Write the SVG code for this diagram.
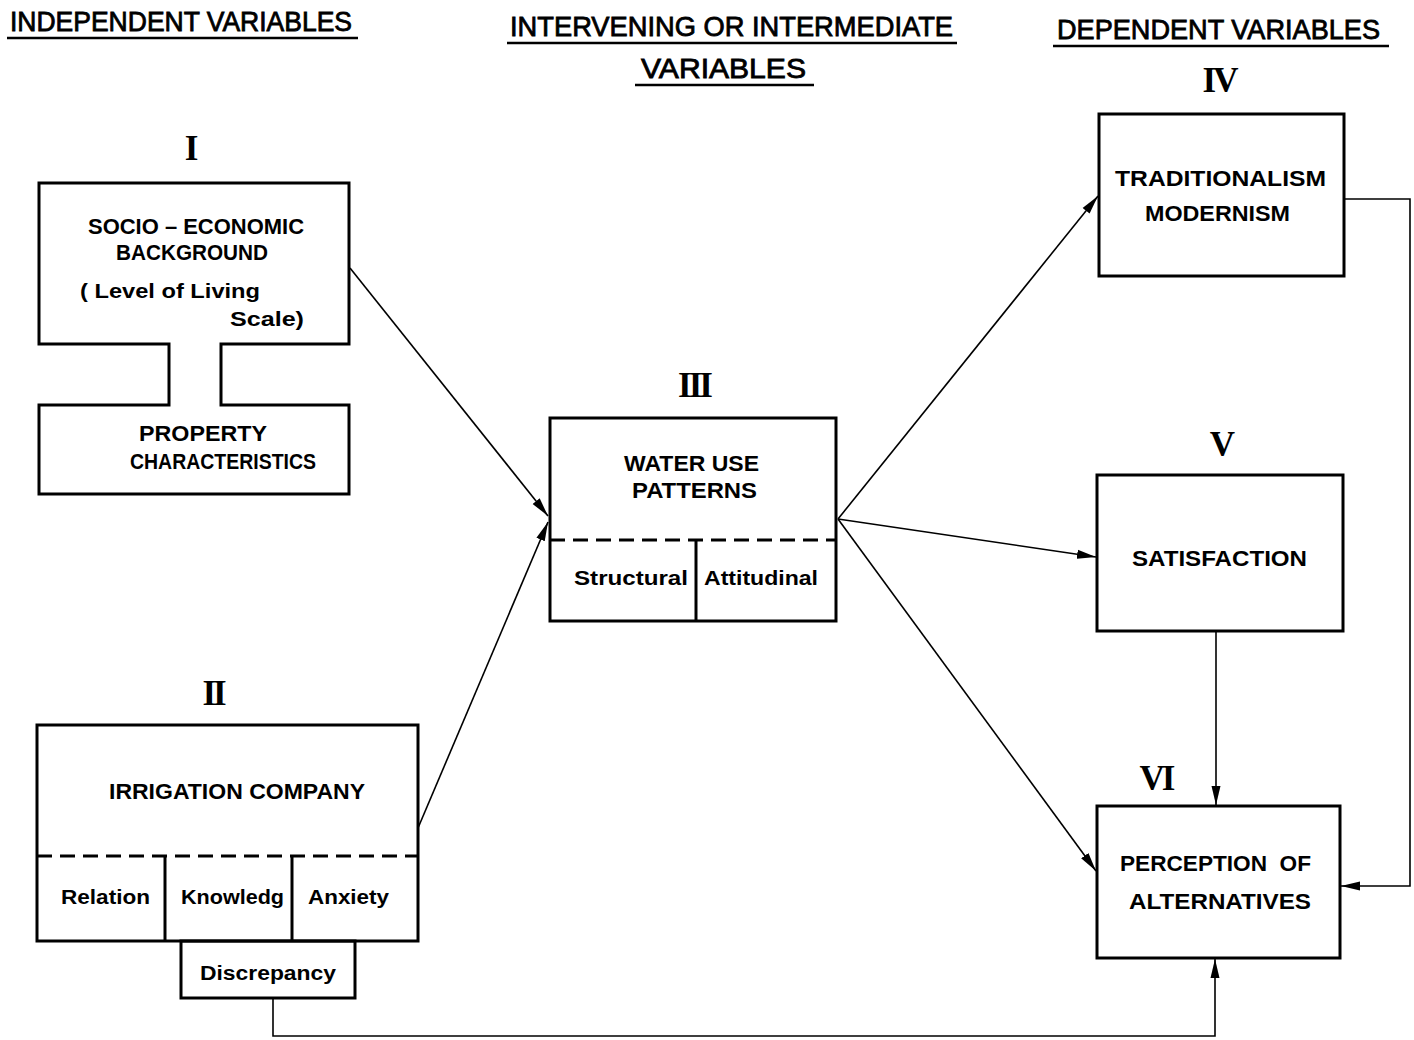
<svg xmlns="http://www.w3.org/2000/svg" width="1414" height="1040" viewBox="0 0 1414 1040">
  <style>
    .box { fill: none; stroke: #000; stroke-width: 3; stroke-linejoin: miter; }
    .dash { fill: none; stroke: #000; stroke-width: 3; stroke-dasharray: 15 8; }
    .div { fill: none; stroke: #000; stroke-width: 3; }
    .conn { fill: none; stroke: #000; stroke-width: 1.6; }
    .rule { stroke: #000; stroke-width: 2.5; }
    .head { font-family: "Liberation Sans", Arial, sans-serif; font-size: 27px; fill: #000; stroke: #000; stroke-width: 0.8px; }
    .lbl { font-family: "Liberation Sans", Arial, sans-serif; font-weight: bold; font-size: 22px; fill: #000; white-space: pre; }
    .sub { font-family: "Liberation Sans", Arial, sans-serif; font-weight: bold; font-size: 20px; fill: #000; }
    .num { font-family: "Liberation Serif", "Times New Roman", serif; font-weight: bold; font-size: 35px; fill: #000; text-anchor: middle; letter-spacing: -3px; }
  </style>
  <defs>
    <marker id="arrow" markerUnits="userSpaceOnUse" markerWidth="20" markerHeight="10" refX="19" refY="5" orient="auto">
      <path d="M0,0.5 L19,5 L0,9.5 Z" fill="#000"/>
    </marker>
  </defs>
  <rect width="1414" height="1040" fill="#fff"/>

  <!-- column headings -->
  <g id="headings">
    <text class="head" x="10" y="31" textLength="342" lengthAdjust="spacingAndGlyphs">INDEPENDENT VARIABLES</text>
    <line class="rule" x1="7" y1="38" x2="358" y2="38"/>
    <text class="head" x="510" y="36" textLength="443" lengthAdjust="spacingAndGlyphs">INTERVENING OR INTERMEDIATE</text>
    <line class="rule" x1="507" y1="43" x2="957" y2="43"/>
    <text class="head" x="641" y="78" textLength="165" lengthAdjust="spacingAndGlyphs">VARIABLES</text>
    <line class="rule" x1="635" y1="85" x2="814" y2="85"/>
    <text class="head" x="1057" y="39" textLength="323" lengthAdjust="spacingAndGlyphs">DEPENDENT VARIABLES</text>
    <line class="rule" x1="1053" y1="46" x2="1389" y2="46"/>
  </g>

  <!-- I: socio-economic background joined to property characteristics -->
  <g id="node-I">
    <text class="num" x="190" y="160">I</text>
    <path class="box" d="M39,183 H349 V344 H221 V405 H349 V494 H39 V405 H169 V344 H39 Z"/>
    <text class="lbl" x="88" y="234" textLength="216" lengthAdjust="spacingAndGlyphs">SOCIO – ECONOMIC</text>
    <text class="lbl" x="116" y="260" textLength="152" lengthAdjust="spacingAndGlyphs">BACKGROUND</text>
    <text class="sub" x="80" y="298" textLength="180" lengthAdjust="spacingAndGlyphs">( Level of Living</text>
    <text class="sub" x="230" y="326" textLength="74" lengthAdjust="spacingAndGlyphs">Scale)</text>
    <text class="lbl" x="139" y="441" textLength="128" lengthAdjust="spacingAndGlyphs">PROPERTY</text>
    <text class="lbl" x="130" y="469" textLength="186" lengthAdjust="spacingAndGlyphs">CHARACTERISTICS</text>
  </g>

  <!-- II: irrigation company -->
  <g id="node-II">
    <text class="num" x="213" y="705">II</text>
    <rect class="box" x="37" y="725" width="381" height="216"/>
    <line class="dash" x1="37" y1="856" x2="418" y2="856"/>
    <line class="div" x1="165" y1="856" x2="165" y2="941"/>
    <line class="div" x1="292" y1="856" x2="292" y2="941"/>
    <rect class="box" x="181" y="941" width="174" height="57"/>
    <text class="lbl" x="109" y="799" textLength="256" lengthAdjust="spacingAndGlyphs">IRRIGATION COMPANY</text>
    <text class="sub" x="61" y="904" textLength="89" lengthAdjust="spacingAndGlyphs">Relation</text>
    <text class="sub" x="181" y="904" textLength="103" lengthAdjust="spacingAndGlyphs">Knowledg</text>
    <text class="sub" x="308" y="904" textLength="81" lengthAdjust="spacingAndGlyphs">Anxiety</text>
    <text class="sub" x="200" y="980" textLength="136" lengthAdjust="spacingAndGlyphs">Discrepancy</text>
  </g>

  <!-- III: water use patterns -->
  <g id="node-III">
    <text class="num" x="694" y="397">III</text>
    <rect class="box" x="550" y="418" width="286" height="203"/>
    <line class="dash" x1="550" y1="540" x2="836" y2="540"/>
    <line class="div" x1="696" y1="540" x2="696" y2="621"/>
    <text class="lbl" x="624" y="471" textLength="135" lengthAdjust="spacingAndGlyphs">WATER USE</text>
    <text class="lbl" x="632" y="498" textLength="125" lengthAdjust="spacingAndGlyphs">PATTERNS</text>
    <text class="sub" x="574" y="585" textLength="114" lengthAdjust="spacingAndGlyphs">Structural</text>
    <text class="sub" x="704" y="585" textLength="114" lengthAdjust="spacingAndGlyphs">Attitudinal</text>
  </g>

  <!-- IV: traditionalism / modernism -->
  <g id="node-IV">
    <text class="num" x="1219" y="92">IV</text>
    <rect class="box" x="1099" y="114" width="245" height="162"/>
    <text class="lbl" x="1115" y="186" textLength="211" lengthAdjust="spacingAndGlyphs">TRADITIONALISM</text>
    <text class="lbl" x="1145" y="221" textLength="145" lengthAdjust="spacingAndGlyphs">MODERNISM</text>
  </g>

  <!-- V: satisfaction -->
  <g id="node-V">
    <text class="num" x="1221" y="456">V</text>
    <rect class="box" x="1097" y="475" width="246" height="156"/>
    <text class="lbl" x="1132" y="566" textLength="175" lengthAdjust="spacingAndGlyphs">SATISFACTION</text>
  </g>

  <!-- VI: perception of alternatives -->
  <g id="node-VI">
    <text class="num" x="1156" y="790">VI</text>
    <rect class="box" x="1097" y="806" width="243" height="152"/>
    <text class="lbl" x="1120" y="871" textLength="191" lengthAdjust="spacingAndGlyphs">PERCEPTION  OF</text>
    <text class="lbl" x="1129" y="909" textLength="182" lengthAdjust="spacingAndGlyphs">ALTERNATIVES</text>
  </g>

  <!-- connectors -->
  <g id="connectors">
    <line class="conn" x1="350" y1="268" x2="548" y2="516" marker-end="url(#arrow)"/>
    <line class="conn" x1="418" y1="828" x2="548" y2="522" marker-end="url(#arrow)"/>
    <line class="conn" x1="838" y1="519" x2="1098" y2="196" marker-end="url(#arrow)"/>
    <line class="conn" x1="838" y1="519" x2="1096" y2="557" marker-end="url(#arrow)"/>
    <line class="conn" x1="838" y1="519" x2="1096" y2="871" marker-end="url(#arrow)"/>
    <line class="conn" x1="1216" y1="631" x2="1216" y2="805" marker-end="url(#arrow)"/>
    <polyline class="conn" points="1344,199 1410,199 1410,886 1341,886" marker-end="url(#arrow)"/>
    <polyline class="conn" points="273,998 273,1036 1215,1036 1215,959" marker-end="url(#arrow)"/>
  </g>
</svg>
